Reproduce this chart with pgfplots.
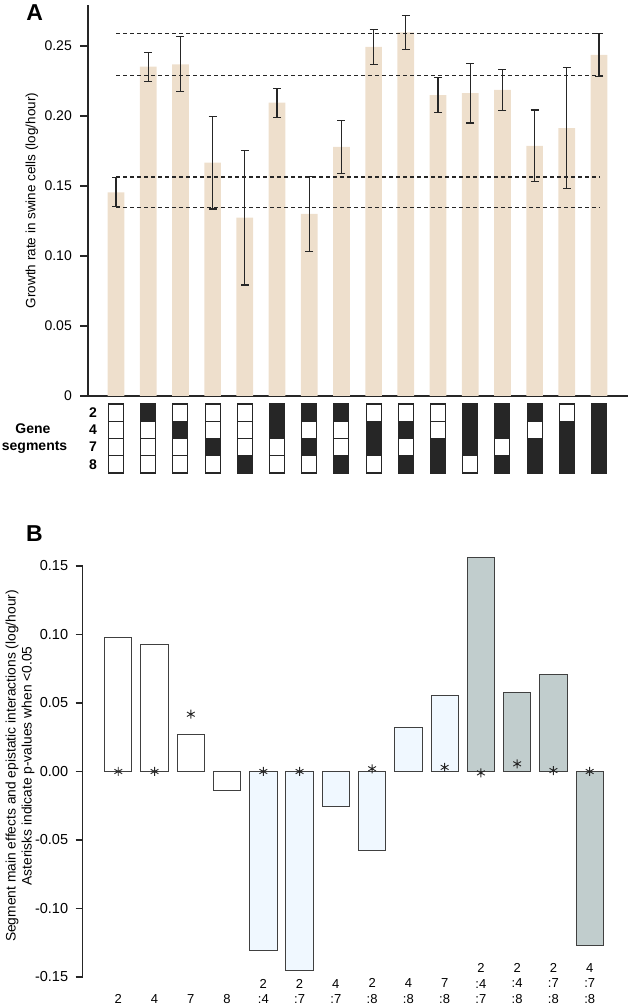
\documentclass[border=0pt]{standalone}
\usepackage{pgfplots}
\pgfplotsset{compat=1.18}
\usepackage{fontspec}
\setmainfont{Liberation Sans}
\definecolor{barA}{HTML}{EEDFCC}
\definecolor{alice}{HTML}{F0F8FF}
\definecolor{azthree}{HTML}{C1CDCD}
\definecolor{ink}{HTML}{262626}
\begin{document}
\begin{tikzpicture}
\path[use as bounding box] (0,0) rectangle (628pt,1007pt);
% ---------------- Panel A ----------------
\begin{axis}[
  at={(88pt,611pt)}, anchor=south west,
  scale only axis, width=540pt, height=391pt,
  xmin=0.1304, xmax=16.9006, ymin=0, ymax=0.2793,
  axis x line=bottom, axis y line=left,
  axis line style={-, draw=ink, line width=1.1pt},
  xtick=\empty,
  ytick={0,0.05,0.10,0.15,0.20,0.25},
  yticklabels={0,0.05,0.10,0.15,0.20,0.25},
  tick align=outside, major tick length=8pt,
  tick style={draw=ink, line width=1.1pt},
  yticklabel style={font=\fontsize{14}{16}\selectfont, inner sep=0pt, xshift=-8pt},
  ylabel={Growth rate in swine cells (log/hour)},
  every axis y label/.style={at={(axis description cs:-0.1037,0.5)}, rotate=90, anchor=center, font=\fontsize{13.5}{15}\selectfont},
  clip=false,
]
\addplot[ybar, bar width=16.7pt, bar shift=0pt, fill=barA, draw=none,
  error bars/.cd, y dir=both, y explicit,
  error bar style={draw=ink, line width=1.1pt, solid},
  error mark options={rotate=90, mark size=4pt, draw=ink, line width=1.1pt}]
coordinates {
(1,0.1455) +- (0,0.0104)
(2,0.2352) +- (0,0.0103)
(3,0.2369) +- (0,0.0197)
(4,0.1667) +- (0,0.0331)
(5,0.1274) +- (0,0.0481)
(6,0.2095) +- (0,0.0104)
(7,0.1300) +- (0,0.0266)
(8,0.1779) +- (0,0.0190)
(9,0.2493) +- (0,0.0125)
(10,0.2598) +- (0,0.0122)
(11,0.2150) +- (0,0.0128)
(12,0.2164) +- (0,0.0214)
(13,0.2186) +- (0,0.0147)
(14,0.1786) +- (0,0.0257)
(15,0.1914) +- (0,0.0435)
(16,0.2436) +- (0,0.0151)
};
\addplot[ink, line width=1.1pt, dash pattern=on 4pt off 3pt] coordinates {(1,0.2590) (16.186,0.2590)};
\addplot[ink, line width=1.1pt, dash pattern=on 4pt off 3pt] coordinates {(1,0.2288) (16.186,0.2288)};
\addplot[ink, line width=1.1pt, dash pattern=on 4pt off 3pt] coordinates {(1,0.1564) (16.031,0.1564)};
\addplot[ink, line width=1.1pt, dash pattern=on 4pt off 3pt] coordinates {(1,0.1348) (16.031,0.1348)};
\end{axis}
% ---------------- Gene segment grid ----------------
\begin{axis}[
  at={(88pt,534pt)}, anchor=south west,
  scale only axis, width=540pt, height=69pt,
  xmin=0.1304, xmax=16.9006, ymin=0, ymax=4,
  axis line style={draw=none},
  xtick=\empty,
  ytick={0.5,1.5,2.5,3.5}, yticklabels={8,7,4,2},
  major tick length=0pt, tick style={draw=none},
  yticklabel style={anchor=center, xshift=5pt, font=\bfseries\fontsize{14}{16}\selectfont},
  clip=false,
]
\addplot[only marks, mark=square*, mark size=7.5pt, mark options={fill=white, draw=ink, line width=1.1pt, yscale=1.15}]
coordinates {
(1,3.5)(1,2.5)(1,1.5)(1,0.5)
(2,2.5)(2,1.5)(2,0.5)
(3,3.5)(3,1.5)(3,0.5)
(4,3.5)(4,2.5)(4,0.5)
(5,3.5)(5,2.5)(5,1.5)
(6,1.5)(6,0.5)
(7,2.5)(7,0.5)
(8,2.5)(8,1.5)
(9,3.5)(9,0.5)
(10,3.5)(10,1.5)
(11,3.5)(11,2.5)
(12,0.5)
(13,1.5)
(14,2.5)
(15,3.5)
};
\addplot[only marks, mark=square*, mark size=7.5pt, mark options={fill=ink, draw=ink, line width=1.1pt, yscale=1.15}]
coordinates {
(2,3.5)
(3,2.5)
(4,1.5)
(5,0.5)
(6,3.5)(6,2.5)
(7,3.5)(7,1.5)
(8,3.5)(8,0.5)
(9,2.5)(9,1.5)
(10,2.5)(10,0.5)
(11,1.5)(11,0.5)
(12,3.5)(12,2.5)(12,1.5)
(13,3.5)(13,2.5)(13,0.5)
(14,3.5)(14,1.5)(14,0.5)
(15,2.5)(15,1.5)(15,0.5)
(16,3.5)(16,2.5)(16,1.5)(16,0.5)
};
\end{axis}
% ---------------- Panel B ----------------
\begin{axis}[
  at={(82.7pt,30pt)}, anchor=south west,
  scale only axis, width=545.3pt, height=411pt,
  xmin=0.0182, xmax=15.057, ymin=-0.15, ymax=0.15,
  axis y line=left, axis x line=bottom,
  axis line style={-, draw=ink, line width=1.1pt},
  x axis line style={draw=none},
  ytick={-0.15,-0.10,-0.05,0,0.05,0.10,0.15},
  yticklabels={-0.15,-0.10,-0.05,0.00,0.05,0.10,0.15},
  tick align=outside, major tick length=7pt,
  ytick style={draw=ink, line width=1.1pt},
  xtick style={draw=none},
  yticklabel style={font=\fontsize{14.5}{16}\selectfont, inner sep=0pt, xshift=-7.4pt},
  xtick={1,2,3,4,5,6,7,8,9,10,11,12,13,14},
  xticklabels={
    {\strut\\\strut\\2},{\strut\\\strut\\4},{\strut\\\strut\\7},{\strut\\\strut\\8},
    {\strut\\2\\:4},{\strut\\2\\:7},{\strut\\4\\:7},{\strut\\2\\:8},{\strut\\4\\:8},{\strut\\7\\:8},
    {2\\:4\\:7},{2\\:4\\:8},{2\\:7\\:8},{4\\:7\\:8}},
  xticklabel style={anchor=south, inner sep=0pt, align=center, font=\fontsize{13}{15.8}\selectfont, yshift=-20pt},
  ylabel={Segment main effects and epistatic interactions (log/hour)\\Asterisks indicate p-values when <0.05},
  every axis y label/.style={at={(axis description cs:-0.115,0.5134)}, rotate=90, anchor=center, align=center, font=\fontsize{13.8}{16}\selectfont},
  clip=false,
]
\addplot[ybar, bar width=27.3pt, bar shift=0pt, fill=white, draw=black!75, line width=0.9pt]
coordinates {(1,0.0977)(2,0.0928)(3,0.0272)(4,-0.0136)};
\addplot[ybar, bar width=27.3pt, bar shift=0pt, fill=alice, draw=black!75, line width=0.9pt]
coordinates {(5,-0.1309)(6,-0.1455)(7,-0.0255)(8,-0.0576)(9,0.0324)(10,0.0557)};
\addplot[ybar, bar width=27.3pt, bar shift=0pt, fill=azthree, draw=black!75, line width=0.9pt]
coordinates {(11,0.1563)(12,0.0579)(13,0.0710)(14,-0.1270)};
\addplot[only marks, mark=asterisk, mark size=4.5pt, mark options={draw=ink, line width=0.9pt}]
coordinates {(1,0)(2,0)(3,0.0418)(5,0)(6,0)(8,0.002)(10,0.003)(11,-0.001)(12,0.0056)(13,0.0007)(14,0)};
\end{axis}
% ---------------- Text ----------------
\node[anchor=base, font=\bfseries\fontsize{23}{25}\selectfont] at (34.7pt,986pt) {A};
\node[anchor=base, font=\bfseries\fontsize{23}{25}\selectfont] at (34.5pt,465pt) {B};
\node[anchor=base, font=\bfseries\fontsize{14}{16}\selectfont] at (33pt,573pt) {Gene};
\node[anchor=base, font=\bfseries\fontsize{14}{16}\selectfont] at (34.6pt,556pt) {segments};
\end{tikzpicture}
\end{document}
